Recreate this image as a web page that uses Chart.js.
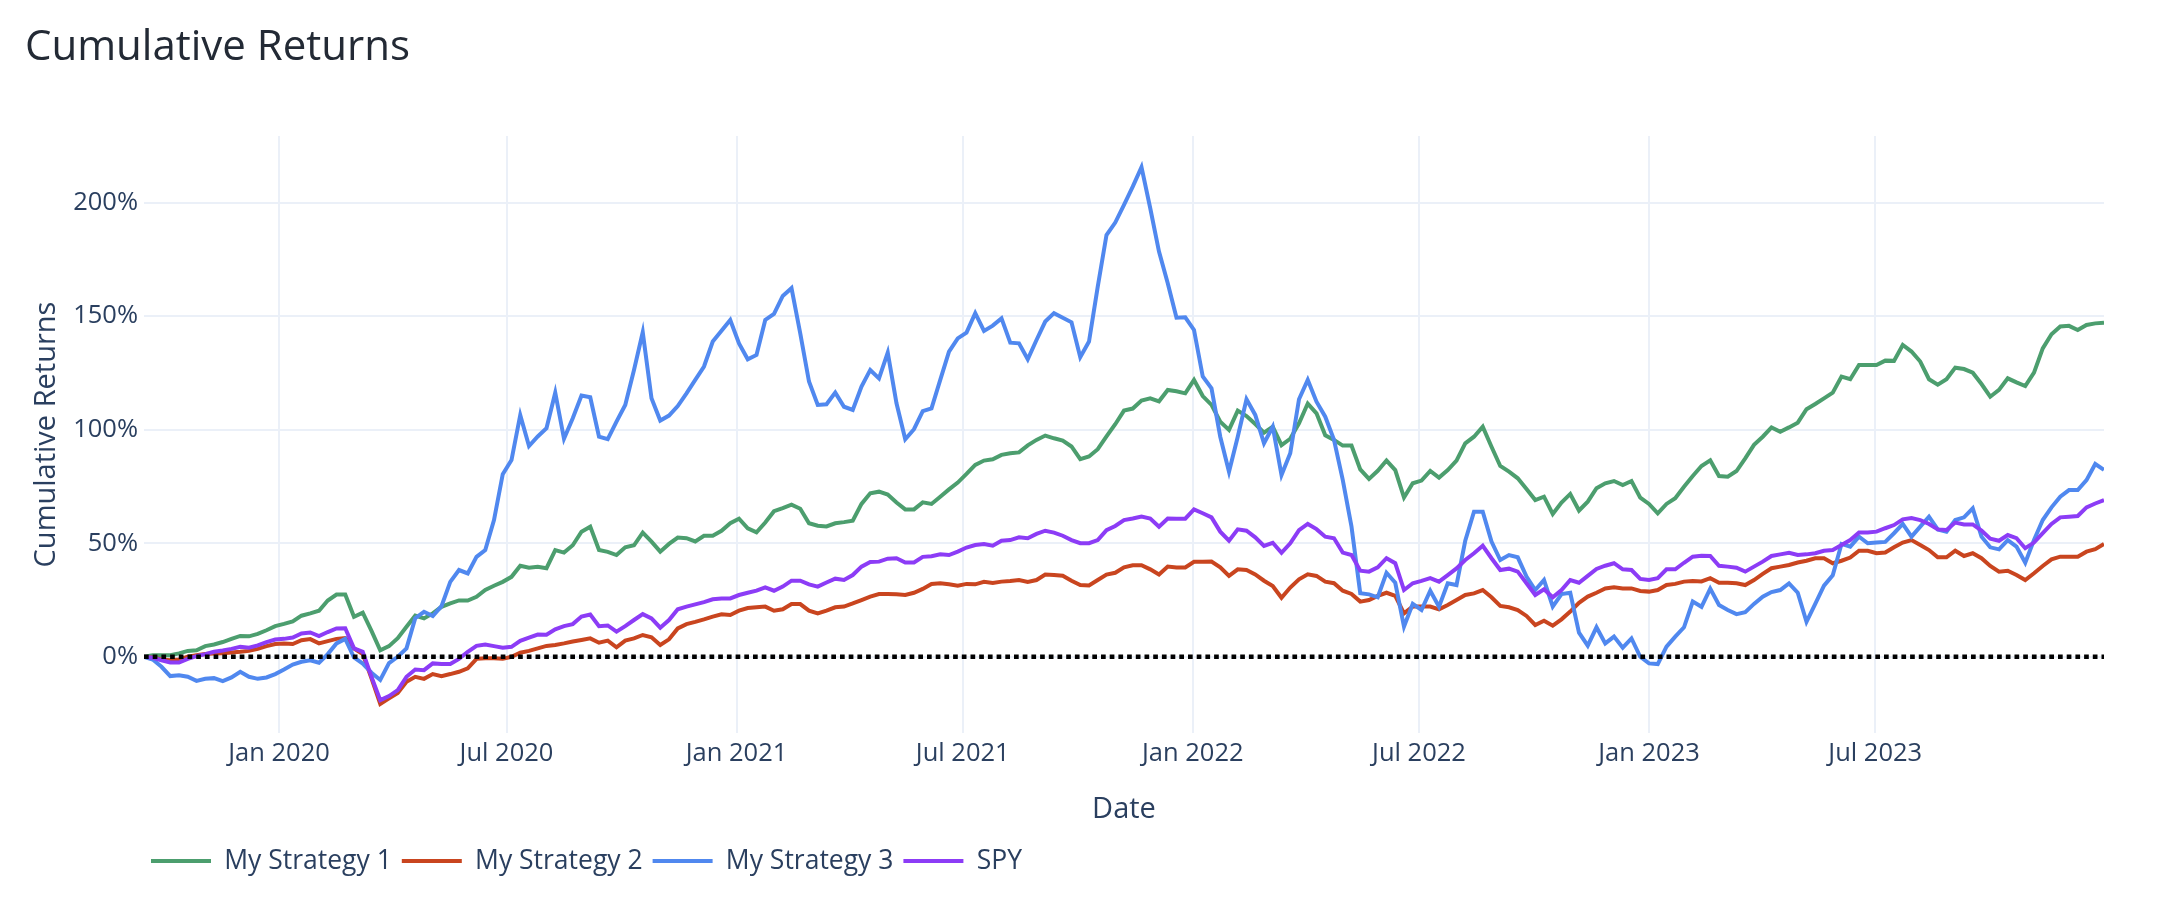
<!DOCTYPE html>
<html>
<head>
<meta charset="utf-8">
<title>Cumulative Returns</title>
<script src="https://cdn.jsdelivr.net/npm/chart.js@4.4.1/dist/chart.umd.min.js"></script>
<style>
  html, body { margin: 0; padding: 0; background: #fff; }
  #chart { display: block; }
</style>
</head>
<body>
<canvas id="chart" width="2160" height="902"></canvas>
<script>
// weekly cumulative returns, in percent
const seriesNames = ["My Strategy 1", "My Strategy 2", "My Strategy 3", "SPY"];
const seriesColors = ["#4c9e6e", "#c9451f", "#5088ef", "#8c3cf6"];

const strategy1 = [0, 0.7, 0.7, 0.7, 1.5, 2.6, 2.9, 4.7, 5.4, 6.5,
    7.9, 9.2, 9.0, 10.1, 11.7, 13.5, 14.5, 15.6, 18.1, 19.1,
    20.3, 24.8, 27.4, 27.4, 17.6, 19.4, 11.4, 2.9, 4.7, 8.2,
    13.2, 18.1, 16.9, 19.1, 22.0, 23.5, 24.8, 24.8, 26.4, 29.4,
    31.3, 33.0, 35.2, 40.1, 39.2, 39.6, 39.0, 47.0, 45.9, 49.1,
    55.1, 57.3, 47.0, 46.2, 44.8, 48.2, 49.1, 54.7, 50.7, 46.3,
    49.7, 52.5, 52.2, 50.8, 53.3, 53.3, 55.5, 58.8, 60.8, 56.6,
    54.8, 59.1, 64.1, 65.5, 67.0, 65.2, 58.8, 57.7, 57.4, 58.8,
    59.3, 59.9, 67.3, 72.0, 72.7, 71.4, 67.9, 64.9, 64.9, 68.0,
    67.3, 70.5, 73.7, 76.7, 80.5, 84.5, 86.4, 87.0, 88.9, 89.6,
    90.0, 93.1, 95.5, 97.4, 96.2, 95.2, 92.6, 87.0, 88.2, 91.4,
    97.0, 102.4, 108.4, 109.3, 112.8, 113.8, 112.5, 117.5, 116.9, 116.0,
    121.9, 114.8, 110.9, 103.5, 99.9, 108.4, 106.0, 102.5, 98.7, 101.3,
    93.2, 96.0, 102.8, 111.5, 107.2, 97.5, 95.5, 93.0, 93.0, 82.5,
    78.3, 81.9, 86.4, 82.2, 70.1, 76.4, 77.6, 81.8, 78.9, 82.2,
    86.4, 94.0, 96.9, 101.3, 92.5, 84.0, 81.5, 78.6, 73.9, 69.0,
    70.5, 62.9, 67.9, 71.7, 64.4, 68.3, 74.2, 76.4, 77.4, 75.6,
    77.4, 70.1, 67.3, 63.2, 67.3, 69.8, 74.9, 79.6, 84.0, 86.5,
    79.6, 79.3, 81.8, 87.4, 93.3, 96.9, 101.0, 99.1, 101.0, 103.1,
    109.0, 111.3, 113.8, 116.3, 123.4, 122.2, 128.5, 128.5, 128.5, 130.4,
    130.3, 137.3, 134.4, 130.0, 122.2, 119.8, 122.2, 127.3, 126.7, 125.1,
    120.1, 114.5, 117.5, 122.6, 120.8, 119.2, 125.1, 135.8, 142.0, 145.4,
    145.7, 143.9, 146.1, 146.8, 147.1];

const strategy2 = [0, -0.3, -1.2, -1.5, -1.2, 0, 0.7, 1.2, 1.5, 1.6,
    1.9, 2.2, 2.6, 3.5, 4.7, 5.6, 5.9, 5.6, 7.3, 7.8,
    5.9, 6.9, 7.9, 8.2, 3.7, 1.2, -9.5, -20.8, -18.3, -15.9,
    -11.0, -8.8, -9.7, -7.6, -8.5, -7.6, -6.6, -5.1, -0.9, -0.6,
    -0.6, -0.9, 0, 1.8, 2.6, 3.7, 4.8, 5.2, 5.9, 6.7,
    7.4, 8.1, 6.2, 7.1, 4.2, 7.1, 8.1, 9.6, 8.6, 5.2,
    7.7, 12.5, 14.4, 15.4, 16.5, 17.7, 18.7, 18.4, 20.3, 21.5,
    21.8, 22.1, 20.3, 20.9, 23.2, 23.2, 20.3, 19.1, 20.3, 21.8,
    22.1, 23.5, 25.0, 26.5, 27.6, 27.6, 27.5, 27.2, 28.2, 29.9,
    32.1, 32.4, 31.9, 31.3, 32.1, 31.9, 33.0, 32.5, 33.1, 33.4,
    33.8, 33.0, 33.8, 36.2, 36.0, 35.7, 33.5, 31.6, 31.4, 33.8,
    36.2, 37.0, 39.4, 40.3, 40.3, 38.5, 36.2, 39.7, 39.3, 39.3,
    41.8, 41.8, 41.9, 39.4, 35.6, 38.5, 38.2, 36.3, 33.5, 31.2,
    26.0, 30.5, 34.1, 36.3, 35.6, 33.1, 32.4, 29.1, 27.7, 24.3,
    25.0, 26.8, 28.2, 26.8, 19.1, 22.1, 22.1, 22.1, 20.9, 22.8,
    25.0, 27.2, 27.9, 29.4, 26.2, 22.4, 21.8, 20.6, 18.0, 14.0,
    15.9, 13.7, 16.5, 19.9, 23.8, 26.5, 28.2, 30.1, 30.6, 30.1,
    30.1, 29.0, 28.7, 29.4, 31.6, 32.1, 33.1, 33.4, 33.2, 34.6,
    32.6, 32.6, 32.4, 31.6, 33.8, 36.5, 39.0, 39.7, 40.4, 41.5,
    42.3, 43.4, 43.4, 41.2, 42.3, 43.7, 46.7, 46.7, 45.6, 45.9,
    48.2, 50.3, 51.4, 49.2, 47.0, 43.8, 43.8, 46.7, 44.4, 45.6,
    43.4, 40.0, 37.5, 37.9, 36.0, 33.8, 36.8, 40.0, 42.9, 44.1,
    44.1, 44.1, 46.3, 47.4, 49.7];

const strategy3 = [0, -1.2, -4.4, -8.5, -8.1, -8.8, -10.6, -9.7, -9.4, -10.7,
    -9.1, -6.6, -8.8, -9.7, -9.1, -7.6, -5.6, -3.4, -2.2, -1.5,
    -2.6, 1.2, 5.9, 7.9, -0.3, -3.0, -7.0, -10.2, -2.8, 0,
    3.7, 17.0, 19.8, 17.9, 22.3, 33.0, 38.2, 36.7, 44.0, 47.0,
    60.2, 80.4, 86.6, 106.4, 92.8, 97.0, 100.6, 116.3, 96.0, 105.0,
    115.0, 114.3, 96.9, 95.8, 103.5, 110.9, 126.3, 142.9, 113.8, 104.0,
    106.2, 110.4, 116.0, 121.9, 127.8, 138.8, 143.6, 148.3, 138.0, 131.0,
    132.9, 148.3, 151.0, 158.9, 162.3, 142.4, 121.2, 110.9, 111.2, 116.3,
    110.1, 108.7, 119.0, 126.3, 122.6, 133.9, 111.6, 95.8, 100.2, 108.2,
    109.4, 121.9, 134.4, 140.2, 142.7, 151.3, 143.5, 145.8, 149.0, 138.3,
    138.0, 131.0, 139.5, 147.6, 151.3, 149.3, 147.3, 131.9, 138.8, 163.0,
    185.7, 191.2, 199.0, 207.0, 215.6, 197.5, 178.4, 164.5, 149.3, 149.5,
    143.9, 123.4, 118.2, 96.9, 81.5, 96.9, 113.4, 106.5, 94.0, 101.3,
    80.0, 89.6, 113.4, 121.9, 112.3, 105.7, 95.5, 77.9, 57.3, 28.0,
    27.5, 26.2, 37.0, 32.6, 13.3, 23.3, 20.6, 29.1, 22.1, 32.4,
    31.6, 51.1, 63.9, 63.9, 50.7, 42.6, 44.8, 43.8, 35.3, 29.4,
    33.8, 22.1, 27.6, 28.2, 10.6, 4.9, 13.0, 5.9, 8.9, 4.0,
    8.1, 0, -2.9, -3.2, 4.5, 8.9, 13.0, 24.3, 22.0, 30.0,
    22.8, 20.6, 18.8, 19.6, 23.3, 26.5, 28.5, 29.4, 32.3, 28.2,
    15.4, 23.3, 31.3, 35.9, 49.7, 48.5, 52.9, 50.0, 50.3, 50.6,
    54.4, 58.5, 52.9, 57.3, 61.7, 56.1, 55.1, 60.2, 61.4, 65.4,
    52.9, 48.2, 47.3, 51.4, 48.5, 41.4, 51.4, 60.2, 65.8, 70.5,
    73.4, 73.4, 77.8, 84.9, 82.3];

const spy = [0, -0.4, -1.5, -2.5, -2.5, -0.9, 0.3, 1.2, 2.2, 2.8,
    3.5, 4.4, 4.0, 5.0, 6.5, 7.6, 7.9, 8.5, 10.3, 10.7,
    9.1, 10.9, 12.5, 12.6, 3.7, 2.2, -8.8, -19.1, -17.3, -14.7,
    -8.8, -5.6, -5.9, -2.9, -3.2, -3.2, -0.9, 2.2, 4.8, 5.4,
    4.7, 4.0, 4.4, 7.0, 8.4, 9.8, 9.7, 12.1, 13.5, 14.4,
    17.7, 18.6, 13.5, 13.8, 11.1, 13.5, 16.2, 18.8, 16.9, 12.8,
    16.2, 20.9, 22.1, 23.1, 24.1, 25.3, 25.7, 25.7, 27.2, 28.2,
    29.1, 30.6, 29.1, 30.9, 33.5, 33.5, 31.9, 30.9, 32.7, 34.4,
    33.8, 36.0, 39.7, 41.7, 41.9, 43.2, 43.4, 41.5, 41.5, 44.0,
    44.3, 45.1, 44.8, 46.3, 48.1, 49.2, 49.7, 48.9, 51.1, 51.4,
    52.6, 52.2, 54.1, 55.5, 54.7, 53.3, 51.4, 50.0, 50.0, 51.4,
    55.8, 57.6, 60.2, 60.9, 61.7, 60.9, 57.3, 60.9, 60.8, 60.8,
    64.9, 63.2, 61.4, 55.1, 51.1, 56.1, 55.5, 52.6, 48.8, 50.2,
    45.8, 50.0, 55.8, 58.5, 56.2, 52.9, 52.2, 45.9, 44.8, 37.9,
    37.5, 39.4, 43.4, 41.2, 29.4, 32.4, 33.4, 34.6, 33.1, 36.0,
    38.9, 42.6, 45.6, 48.9, 43.4, 38.2, 38.8, 37.5, 32.4, 27.2,
    29.7, 26.2, 29.4, 33.8, 32.6, 35.6, 38.7, 40.1, 41.2, 38.5,
    38.2, 34.3, 33.8, 34.6, 38.5, 38.5, 41.4, 44.1, 44.5, 44.4,
    40.1, 39.7, 39.2, 37.5, 39.7, 41.9, 44.4, 45.1, 45.8, 44.8,
    45.1, 45.6, 46.7, 47.0, 49.2, 51.4, 54.7, 54.7, 55.1, 56.6,
    58.0, 60.5, 61.1, 60.2, 58.5, 56.1, 55.8, 59.1, 58.3, 58.3,
    55.6, 52.0, 51.1, 53.6, 52.2, 47.8, 50.3, 54.4, 58.5, 61.4,
    61.7, 62.0, 65.8, 67.5, 69.0];

// x axis: one point per week, ticks every six months
const firstWeek = "2019-09-15";
const tickDates = ["2020-01-01", "2020-07-01", "2021-01-01", "2021-07-01",
    "2022-01-01", "2022-07-01", "2023-01-01", "2023-07-01"];
const tickLabels = ["Jan 2020", "Jul 2020", "Jan 2021", "Jul 2021",
    "Jan 2022", "Jul 2022", "Jan 2023", "Jul 2023"];
const yTickValues = [0, 50, 100, 150, 200];

// days since 1 Jan 2020
function dayNum(s) {
    const [y, m, d] = s.split("-").map(Number);
    return (Date.UTC(y, m - 1, d) - Date.UTC(2020, 0, 1)) / 86400000;
}

const weekDays = strategy1.map((_, i) => dayNum(firstWeek) + 7 * i);
const tickDays = tickDates.map(dayNum);
const xMin = weekDays[0];
const xMax = weekDays[weekDays.length - 1];

const textColor = "#2a3f5f";
const gridColor = "#ebf0f8";
Chart.defaults.font.family = "'Open Sans', sans-serif";

const allSeries = [strategy1, strategy2, strategy3, spy];
const datasets = allSeries.map((vals, i) => ({
    label: seriesNames[i],
    data: vals,
    borderColor: seriesColors[i],
    backgroundColor: seriesColors[i],
    borderWidth: 4,
    pointRadius: 0,
    tension: 0,
    fill: false,
    order: allSeries.length - i   // SPY drawn on top
}));
// dotted zero line across the whole range
datasets.push({
    label: "zero",
    data: [{x: xMin, y: 0}, {x: xMax, y: 0}],
    borderColor: "#000",
    borderWidth: 4.5,
    borderDash: [4.7, 4],
    pointRadius: 0,
    order: 0
});

// move title and legend to where plotly puts them
const shiftBlocks = {
    id: "shiftBlocks",
    afterLayout(chart) {
        chart.titleBlock.left += 25;
        chart.titleBlock.right += 25;
        chart.legend.left += 141;
        chart.legend.right += 141;
    }
};

new Chart(document.getElementById("chart"), {
    type: "line",
    data: {labels: weekDays, datasets: datasets},
    plugins: [shiftBlocks],
    options: {
        responsive: false,
        animation: false,
        events: [],
        layout: {padding: {left: 0, right: 56, top: 0, bottom: 17.75}},
        plugins: {
            title: {
                display: true,
                text: "Cumulative Returns",
                align: "start",
                color: "#232a35",
                font: {size: 42, weight: "normal"},
                padding: {top: 23, bottom: 62.6}
            },
            legend: {
                position: "bottom",
                align: "start",
                labels: {
                    usePointStyle: true,
                    pointStyle: "line",
                    pointStyleWidth: 60,
                    padding: 10,
                    color: textColor,
                    font: {size: 26.5},
                    filter: item => item.datasetIndex < seriesNames.length,
                    sort: (a, b) => a.datasetIndex - b.datasetIndex
                }
            },
            tooltip: {enabled: false}
        },
        scales: {
            x: {
                type: "linear",
                min: xMin,
                max: xMax,
                border: {display: false},
                grid: {color: gridColor, lineWidth: 2, drawTicks: false},
                afterBuildTicks: scale => {
                    scale.ticks = tickDays.map(v => ({value: v}));
                },
                afterFit: scale => { scale.height = 104.75; },
                ticks: {
                    autoSkip: false,
                    maxRotation: 0,
                    padding: 5,
                    color: textColor,
                    font: {size: 25.5},
                    callback: (v, i) => tickLabels[i]
                },
                title: {
                    display: true,
                    text: "Date",
                    color: textColor,
                    font: {size: 29},
                    padding: {top: 0, bottom: 10.3}
                }
            },
            y: {
                min: -33.55,
                max: 229.3,
                border: {display: false},
                grid: {color: gridColor, lineWidth: 2, drawTicks: false},
                afterBuildTicks: scale => {
                    scale.ticks = yTickValues.map(v => ({value: v}));
                },
                afterFit: scale => { scale.width = 144; },
                ticks: {
                    padding: 6,
                    color: textColor,
                    font: {size: 25.5},
                    callback: v => v + "%"
                },
                title: {
                    display: true,
                    text: "Cumulative Returns",
                    color: textColor,
                    font: {size: 29},
                    padding: {top: 29, bottom: 0}
                }
            }
        }
    }
});
</script>
</body>
</html>
